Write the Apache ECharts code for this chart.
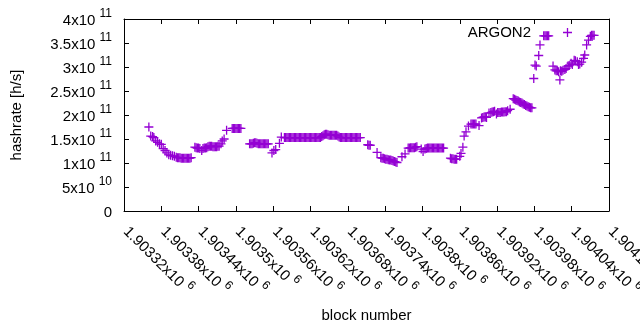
<!DOCTYPE html>
<html>
<head>
<meta charset="utf-8">
<script src="https://cdn.jsdelivr.net/npm/echarts@6/dist/echarts.min.js"></script>
<style>
  html, body { margin: 0; padding: 0; background: #fff; }
  #chart { width: 640px; height: 330px; }
</style>
</head>
<body>
<div id="chart"></div>
<script>
const blocks = [
  1903360, 1903363, 1903366, 1903368, 1903371, 1903374, 1903377, 1903380, 1903383, 1903386,
  1903389, 1903392, 1903395, 1903398, 1903401, 1903404, 1903406, 1903408, 1903410, 1903412,
  1903414, 1903416, 1903418, 1903420, 1903422, 1903424, 1903426, 1903428,
  1903434, 1903436, 1903438, 1903440, 1903442, 1903445, 1903447, 1903449, 1903451, 1903453,
  1903455, 1903457, 1903459, 1903461, 1903463, 1903465, 1903467, 1903469, 1903471, 1903473,
  1903476, 1903478, 1903481, 1903485,
  1903494, 1903496, 1903498, 1903500, 1903502, 1903504, 1903506, 1903508,
  1903522, 1903524, 1903526, 1903528, 1903530, 1903532, 1903534, 1903536, 1903538, 1903540,
  1903542, 1903544, 1903546, 1903548, 1903550, 1903552,
  1903558, 1903561, 1903564, 1903570, 1903573,
  1903578, 1903580, 1903582, 1903584, 1903586, 1903588, 1903590, 1903592, 1903594, 1903596,
  1903598, 1903600, 1903602, 1903604, 1903606, 1903608, 1903610, 1903612, 1903614, 1903616,
  1903618, 1903620, 1903622, 1903624, 1903626, 1903628, 1903630, 1903632, 1903634, 1903636,
  1903638, 1903640, 1903642, 1903644, 1903646, 1903648, 1903650, 1903652, 1903654, 1903656,
  1903658, 1903660, 1903662, 1903664, 1903666, 1903668, 1903670, 1903672, 1903674, 1903676,
  1903678, 1903680, 1903682, 1903684, 1903686, 1903688, 1903690, 1903692, 1903694, 1903696,
  1903698, 1903700,
  1903712, 1903714, 1903716, 1903727,
  1903733, 1903735, 1903737, 1903739, 1903741, 1903743, 1903745, 1903747, 1903749, 1903751,
  1903753, 1903755, 1903757, 1903759, 1903767, 1903772,
  1903777, 1903779, 1903781, 1903783, 1903785, 1903787, 1903789, 1903791, 1903798, 1903801,
  1903804, 1903806, 1903808, 1903810, 1903812, 1903814, 1903816, 1903818, 1903820, 1903822,
  1903824, 1903826, 1903828, 1903830, 1903832, 1903834,
  1903845, 1903847, 1903849, 1903851, 1903853, 1903855, 1903860, 1903862, 1903865, 1903867,
  1903870, 1903874, 1903878, 1903880, 1903882, 1903884, 1903886, 1903891,
  1903895, 1903897, 1903899, 1903901, 1903903, 1903907, 1903910, 1903912, 1903914, 1903916,
  1903919, 1903921, 1903923, 1903925, 1903927, 1903929, 1903931, 1903933, 1903935, 1903937,
  1903941, 1903946, 1903948, 1903950, 1903952, 1903954, 1903956, 1903958, 1903960, 1903962,
  1903964, 1903966, 1903968, 1903970, 1903972, 1903974, 1903976,
  1903979, 1903981, 1903983, 1903987, 1903989,
  1903995, 1903997, 1903999, 1904001, 1904003,
  1904010, 1904013, 1904015, 1904017, 1904019, 1904021, 1904022, 1904024, 1904026, 1904029,
  1904031, 1904034, 1904036, 1904039, 1904041, 1904044, 1904046, 1904049, 1904051, 1904053,
  1904056, 1904059, 1904061, 1904064, 1904067,
  1904070, 1904072, 1904074, 1904076
];
const hashrate = [
  175e9, 156e9, 155e9, 153e9, 146e9, 143e9, 140e9, 139e9, 130e9, 126e9,
  121e9, 117e9, 116e9, 115e9, 114e9, 112e9, 111e9, 111e9, 111e9, 110e9,
  110e9, 110e9, 110e9, 110e9, 110e9, 110e9, 110e9, 111e9,
  133e9, 132e9, 131e9, 131e9, 130e9, 126e9, 130e9, 131e9, 131e9, 132e9,
  134e9, 135e9, 135e9, 135e9, 134e9, 134e9, 134e9, 134e9, 135e9, 135e9,
  140e9, 146e9, 150e9, 168e9,
  172e9, 172e9, 172e9, 172e9, 172e9, 172e9, 172e9, 172e9,
  140e9, 140e9, 140e9, 141e9, 142e9, 142e9, 141e9, 140e9, 140e9, 140e9,
  140e9, 140e9, 140e9, 140e9, 140e9, 140e9,
  121e9, 126e9, 128e9, 141e9, 154e9,
  153e9, 153e9, 153e9, 153e9, 153e9, 153e9, 153e9, 153e9, 153e9, 153e9,
  153e9, 153e9, 153e9, 153e9, 153e9, 153e9, 153e9, 153e9, 153e9, 153e9,
  153e9, 153e9, 153e9, 153e9, 153e9, 153e9, 153e9, 153e9, 153e9, 153e9,
  155e9, 157e9, 159e9, 160e9, 160e9, 159e9, 158e9, 158e9, 158e9, 158e9,
  158e9, 158e9, 158e9, 156e9, 154e9, 153e9, 153e9, 153e9, 153e9, 153e9,
  153e9, 153e9, 153e9, 153e9, 153e9, 153e9, 153e9, 153e9, 153e9, 153e9,
  153e9, 153e9,
  138e9, 137e9, 137e9, 122e9,
  111e9, 110e9, 110e9, 109e9, 108e9, 108e9, 107e9, 106e9, 106e9, 105e9,
  104e9, 103e9, 102e9, 101e9, 113e9, 119e9,
  131e9, 131e9, 132e9, 132e9, 132e9, 132e9, 133e9, 134e9, 129e9, 124e9,
  129e9, 130e9, 131e9, 131e9, 131e9, 131e9, 131e9, 131e9, 131e9, 131e9,
  131e9, 131e9, 131e9, 131e9, 131e9, 131e9,
  110e9, 109e9, 109e9, 108e9, 108e9, 108e9, 114e9, 120e9, 133e9, 156e9,
  165e9, 177e9, 181e9, 181e9, 181e9, 181e9, 181e9, 178e9,
  194e9, 195e9, 196e9, 196e9, 195e9, 204e9, 205e9, 206e9, 207e9, 208e9,
  202e9, 205e9, 205e9, 205e9, 206e9, 206e9, 206e9, 207e9, 207e9, 209e9,
  212e9, 234e9, 233e9, 231e9, 230e9, 229e9, 227e9, 226e9, 225e9, 223e9,
  222e9, 220e9, 219e9, 217e9, 216e9, 215e9, 215e9,
  276e9, 304e9, 302e9, 324e9, 346e9,
  365e9, 365e9, 365e9, 365e9, 365e9,
  302e9, 294e9, 292e9, 292e9, 290e9, 273e9, 292e9, 291e9, 293e9, 295e9,
  297e9, 302e9, 303e9, 308e9, 305e9, 314e9, 313e9, 311e9, 305e9, 306e9,
  310e9, 318e9, 325e9, 346e9, 356e9,
  364e9, 366e9, 366e9, 366e9
];
const seriesName = 'ARGON2';

const FONT = 'Liberation Sans';
const PURPLE = '#9400d3';
const plus = 'path://M3.85,0H5.15V3.85H9V5.15H5.15V9H3.85V5.15H0V3.85H3.85Z';
// same cross, with empty room on the left so it sits where gnuplot puts its key sample
const keyIcon = 'path://M-27,4.5L-27,4.51M3.85,0H5.15V3.85H9V5.15H5.15V9H3.85V5.15H0V3.85H3.85Z';

const rich = {
  b: { fontSize: 15, lineHeight: 20, verticalAlign: 'bottom', fontFamily: FONT, color: '#000' },
  e: { fontSize: 12, lineHeight: 12, verticalAlign: 'top', fontFamily: FONT, color: '#000' }
};

function yFmt(v) {
  if (v === 0) return '{b|0}';
  const e = Math.floor(Math.log10(v) + 1e-9);
  const m = +(v / Math.pow(10, e)).toFixed(4);
  return '{b|' + m + 'x10 }{e|' + e + '}';
}
function xFmt(v) {
  return '{b|' + (+(v / 1e6).toFixed(5)) + 'x10 }{e|6}';
}

const tick = { show: true, inside: true, length: 5, lineStyle: { color: '#000', width: 1 } };
const line = { show: true, onZero: false, lineStyle: { color: '#000', width: 1 } };

const chart = echarts.init(document.getElementById('chart'));
chart.setOption({
  animation: false,
  backgroundColor: '#fff',
  textStyle: { fontFamily: FONT },
  grid: { left: 124, right: 31, top: 19, bottom: 119, containLabel: false, outerBoundsMode: 'none' },
  legend: {
    data: [{ name: seriesName, icon: keyIcon }],
    right: 68, top: 25, padding: 0,
    align: 'right',
    itemWidth: 36, itemHeight: 9,
    textStyle: { fontSize: 15, color: '#000', fontFamily: FONT }
  },
  xAxis: [{
    type: 'value', position: 'bottom',
    min: 1903320, max: 1904100, interval: 60,
    axisLine: line, axisTick: tick, splitLine: { show: false },
    axisLabel: {
      rotate: -45, margin: 13, padding: [0, 0, 0, 5],
      formatter: xFmt, rich: rich, showMinLabel: true, showMaxLabel: true
    },
    name: 'block number', nameLocation: 'middle', nameGap: 97,
    nameTextStyle: { fontSize: 15, color: '#000', fontFamily: FONT }
  }, {
    type: 'value', position: 'top',
    min: 1903320, max: 1904100, interval: 60,
    axisLine: line, axisTick: tick, splitLine: { show: false }, axisLabel: { show: false }
  }],
  yAxis: [{
    type: 'value', position: 'left',
    min: 0, max: 4e11, interval: 5e10,
    axisLine: line, axisTick: tick, splitLine: { show: false },
    axisLabel: { margin: 12, formatter: yFmt, rich: rich, padding: [0, 0, 2, 0] },
    name: 'hashrate [h/s]', nameLocation: 'middle', nameGap: 100,
    nameTextStyle: { fontSize: 15, color: '#000', fontFamily: FONT }
  }, {
    type: 'value', position: 'right',
    min: 0, max: 4e11, interval: 5e10,
    axisLine: line, axisTick: tick, splitLine: { show: false }, axisLabel: { show: false }
  }],
  series: [{
    name: seriesName,
    type: 'scatter',
    symbol: plus,
    symbolSize: 9,
    itemStyle: { color: PURPLE, opacity: 1 },
    emphasis: { disabled: true },
    data: blocks.map((b, i) => [b, hashrate[i]])
  }]
});
</script>
</body>
</html>
